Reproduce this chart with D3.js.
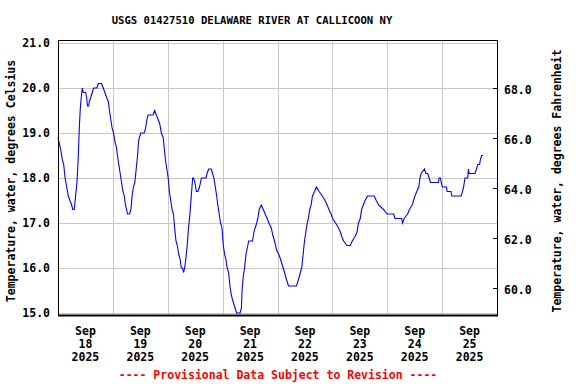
<!DOCTYPE html>
<html>
<head>
<meta charset="utf-8">
<script src="https://cdn.jsdelivr.net/npm/d3@7"></script>
<style>
  body { margin: 0; background: #fff; }
  text { font-family: "DejaVu Sans Mono", "Liberation Mono", monospace; font-weight: bold; fill: #000; }
  .grid line { stroke: #c8c8c8; stroke-width: 1; shape-rendering: crispEdges; }
  .frame { fill: none; stroke: #000; stroke-width: 1; shape-rendering: crispEdges; }
  .line { fill: none; stroke: #0000ff; stroke-width: 1.1; }
</style>
</head>
<body>
<div id="chart"></div>
<script>
// hours since Sep 18 2025 00:00 and water temperature (deg C)
var hours = [0, 0.9, 1.3, 1.9, 2.5, 3.1, 3.8, 4.5, 5.2, 6.0, 6.4, 7.1, 7.7, 8.3, 8.9, 9.3, 9.7, 10.0, 10.6, 11.1,
  12.1, 12.5, 12.9, 13.4, 13.7, 14.4, 15.0, 15.6, 17.0, 17.6, 19.0, 19.8, 20.5, 21.2, 22.0, 22.5, 23.1, 23.7, 24.3, 24.9,
  25.5, 26.0, 26.6, 27.2, 27.8, 28.4, 29.0, 29.5, 30.0, 30.4, 31.3, 31.9, 32.4, 33.0, 33.6, 34.2, 34.8, 35.2, 35.6, 36.2,
  37.7, 38.3, 38.9, 39.4, 41.6, 42.3, 43.0, 43.8, 44.5, 45.2, 46.0, 46.4, 47.0, 47.6, 48.2, 48.7, 49.3, 49.9, 50.5, 51.0,
  51.6, 52.2, 52.8, 53.4, 53.9, 54.5, 54.9, 55.4, 55.9, 56.5, 57.1, 57.7, 58.3, 58.9, 59.3, 59.9, 60.5, 61.2, 61.9, 62.7,
  63.2, 64.7, 65.2, 65.9, 67.0, 67.6, 68.2, 68.8, 69.4, 69.9, 70.5, 71.1, 71.7, 72.3, 72.9, 73.4, 74.0, 74.6, 75.2, 75.8,
  76.3, 76.9, 77.5, 78.1, 79.6, 80.2, 80.5, 81.0, 81.6, 82.2, 82.6, 83.4, 85.1, 85.7, 86.9, 87.4, 88.0, 88.9, 89.8, 90.6,
  91.5, 92.2, 93.2, 94.1, 94.7, 95.6, 96.6, 97.3, 97.9, 98.5, 99.1, 99.6, 100.8, 104.3, 104.9, 105.5, 106.0, 106.6, 107.2, 107.8,
  108.4, 109.0, 109.5, 110.1, 110.7, 111.3, 112.2, 113.0, 114.2, 115.6, 116.8, 117.7, 118.5, 119.4, 120.1, 121.4, 122.6, 123.5,
  124.1, 124.9, 126.4, 127.8, 128.7, 129.9, 130.8, 131.4, 132.2, 132.8, 133.5, 134.3, 135.4, 138.3, 139.2, 140.2, 142.4, 143.9,
  146.8, 147.4, 150.3, 150.7, 151.4, 152.9, 153.7, 154.9, 156.1, 156.9, 157.8, 158.3, 158.8, 160.3, 160.9, 161.7, 162.3, 162.9,
  166.4, 166.7, 167.3, 167.6, 168.1, 169.9, 170.2, 171.9, 172.2, 176.3, 176.9, 177.4, 178.0, 179.2, 179.5, 179.8, 182.4, 183.0,
  183.6, 184.4, 184.7, 185.3, 185.9];
var tempC = [18.9, 18.7, 18.6, 18.4, 18.3, 18.0, 17.8, 17.6, 17.5, 17.4, 17.3, 17.3, 17.6, 17.9, 18.5, 19.1, 19.5, 19.7, 20.0, 19.9,
  19.9, 19.8, 19.6, 19.6, 19.7, 19.8, 19.9, 20.0, 20.0, 20.1, 20.1, 20.0, 19.9, 19.8, 19.7, 19.5, 19.3, 19.1, 19.0, 18.8,
  18.7, 18.5, 18.3, 18.1, 17.9, 17.7, 17.6, 17.4, 17.3, 17.2, 17.2, 17.3, 17.6, 17.8, 17.9, 18.2, 18.5, 18.8, 18.9, 19.0,
  19.0, 19.1, 19.3, 19.4, 19.4, 19.5, 19.4, 19.3, 19.2, 19.0, 18.9, 18.7, 18.4, 18.2, 18.0, 17.7, 17.5, 17.3, 17.2, 16.9,
  16.6, 16.5, 16.3, 16.2, 16.0, 16.0, 15.9, 16.0, 16.2, 16.5, 16.9, 17.2, 17.6, 18.0, 18.0, 17.9, 17.7, 17.7, 17.8, 18.0,
  18.0, 18.0, 18.1, 18.2, 18.2, 18.1, 18.0, 17.8, 17.6, 17.4, 17.2, 17.0, 16.9, 16.5, 16.3, 16.2, 16.0, 15.9, 15.6, 15.4,
  15.3, 15.2, 15.1, 15.0, 15.0, 15.1, 15.5, 15.8, 16.0, 16.3, 16.4, 16.6, 16.6, 16.8, 17.0, 17.1, 17.3, 17.4, 17.3, 17.2,
  17.1, 17.0, 16.9, 16.7, 16.6, 16.4, 16.3, 16.2, 16.1, 16.0, 15.9, 15.8, 15.6, 15.6, 15.7, 15.8, 15.9, 16.0, 16.3, 16.6,
  16.8, 17.0, 17.1, 17.3, 17.4, 17.6, 17.7, 17.8, 17.7, 17.6, 17.5, 17.4, 17.3, 17.2, 17.1, 17.0, 16.9, 16.8,
  16.7, 16.6, 16.5, 16.5, 16.6, 16.7, 16.8, 17.0, 17.1, 17.3, 17.4, 17.5, 17.6, 17.6, 17.5, 17.4, 17.3, 17.2,
  17.2, 17.1, 17.1, 17.0, 17.1, 17.2, 17.3, 17.4, 17.6, 17.7, 17.8, 18.0, 18.1, 18.2, 18.1, 18.1, 18.0, 17.9,
  17.9, 18.0, 18.0, 17.9, 17.8, 17.8, 17.7, 17.7, 17.6, 17.6, 17.7, 17.8, 18.0, 18.0, 18.2, 18.1, 18.1, 18.2,
  18.3, 18.3, 18.4, 18.5, 18.5];

var celsiusTicks = [15, 16, 17, 18, 19, 20, 21];
var fahrenheitTicks = [60, 62, 64, 66, 68];
var dayLabels = ["18", "19", "20", "21", "22", "23", "24", "25"];
var monthLabel = "Sep", yearLabel = "2025";

var svg = d3.select("#chart")
    .append("svg")
    .attr("width", 576)
    .attr("height", 384);

var margin = {top: 40, right: 78, bottom: 68, left: 58},
    width = 576 - margin.left - margin.right,
    height = 384 - margin.top - margin.bottom;

var start = new Date(2025, 8, 18),
    end = new Date(2025, 8, 26);

var data = hours.map(function (h, i) {
    return {date: new Date(start.getTime() + h * 3600e3), value: tempC[i]};
});

var x = d3.scaleTime().domain([start, end]).range([0, width - 1]);
var y = d3.scaleLinear().domain([15, 21]).range([273, 3]);
var toC = function (f) { return (f - 32) * 5 / 9; };

var g = svg.append("g")
    .attr("transform", "translate(" + margin.left + "," + margin.top + ")");

// grid
var grid = g.append("g").attr("class", "grid");
grid.selectAll(".hg")
    .data(celsiusTicks)
    .enter().append("line")
    .attr("x1", 0).attr("x2", width)
    .attr("y1", function (d) { return Math.round(y(d)) + 0.5; })
    .attr("y2", function (d) { return Math.round(y(d)) + 0.5; });
grid.selectAll(".vg")
    .data(d3.timeDay.range(d3.timeDay.offset(start, 1), end))
    .enter().append("line")
    .attr("y1", 0).attr("y2", height)
    .attr("x1", function (d) { return Math.round(x(d)) + 0.5; })
    .attr("x2", function (d) { return Math.round(x(d)) + 0.5; });

var line = d3.line()
    .x(function (d) { return x(d.date); })
    .y(function (d) { return y(d.value); });

g.append("path")
    .datum(data)
    .attr("class", "line")
    .attr("d", line);

g.append("rect")
    .attr("class", "frame")
    .attr("x", 0.5).attr("y", 0.5)
    .attr("width", width - 1)
    .attr("height", height - 1);
g.append("line")
    .attr("x1", 0).attr("x2", width)
    .attr("y1", height - 0.5).attr("y2", height - 0.5)
    .attr("stroke", "#000").attr("stroke-width", 2);

// left axis labels
g.selectAll(".ylab")
    .data(celsiusTicks)
    .enter().append("text")
    .attr("x", -8)
    .attr("y", function (d) { return y(d); })
    .attr("dy", "0.36em")
    .attr("text-anchor", "end")
    .style("font-size", "11.5px")
    .text(function (d) { return d.toFixed(1); });

// right axis (fahrenheit)
g.selectAll(".ftick")
    .data(fahrenheitTicks)
    .enter().append("line")
    .attr("x1", width - 5).attr("x2", width)
    .attr("y1", function (d) { return Math.round(y(toC(d))) + 0.5; })
    .attr("y2", function (d) { return Math.round(y(toC(d))) + 0.5; })
    .attr("stroke", "#000");
g.selectAll(".flab")
    .data(fahrenheitTicks)
    .enter().append("text")
    .attr("x", width + 6)
    .attr("y", function (d) { return y(toC(d)); })
    .attr("dy", "0.5em")
    .style("font-size", "11.5px")
    .text(function (d) { return d.toFixed(1); });

// x labels at noon
var xlab = g.selectAll(".xlab")
    .data(dayLabels)
    .enter().append("text")
    .attr("text-anchor", "middle")
    .style("font-size", "11.5px")
    .attr("transform", function (d, i) {
        return "translate(" + x(d3.timeHour.offset(d3.timeDay.offset(start, i), 12)) + "," + (height + 19) + ")";
    });
xlab.append("tspan").attr("x", 0).attr("y", 0).text(monthLabel);
xlab.append("tspan").attr("x", 0).attr("y", 13).text(function (d) { return d; });
xlab.append("tspan").attr("x", 0).attr("y", 26).text(yearLabel);

// titles
svg.append("text")
    .attr("x", 252).attr("y", 24)
    .attr("text-anchor", "middle")
    .style("font-size", "10.6px")
    .text("USGS 01427510 DELAWARE RIVER AT CALLICOON NY");

svg.append("text")
    .attr("transform", "translate(15,181) rotate(-90)")
    .attr("text-anchor", "middle")
    .style("font-size", "11.5px")
    .text("Temperature, water, degrees Celsius");

svg.append("text")
    .attr("transform", "translate(561,181) rotate(-90)")
    .attr("text-anchor", "middle")
    .style("font-size", "11.5px")
    .text("Temperature, water, degrees Fahrenheit");

svg.append("text")
    .attr("x", 278).attr("y", 379)
    .attr("text-anchor", "middle")
    .style("font-size", "11.5px")
    .style("fill", "#ff0000")
    .text("---- Provisional Data Subject to Revision ----");
</script>
</body>
</html>
